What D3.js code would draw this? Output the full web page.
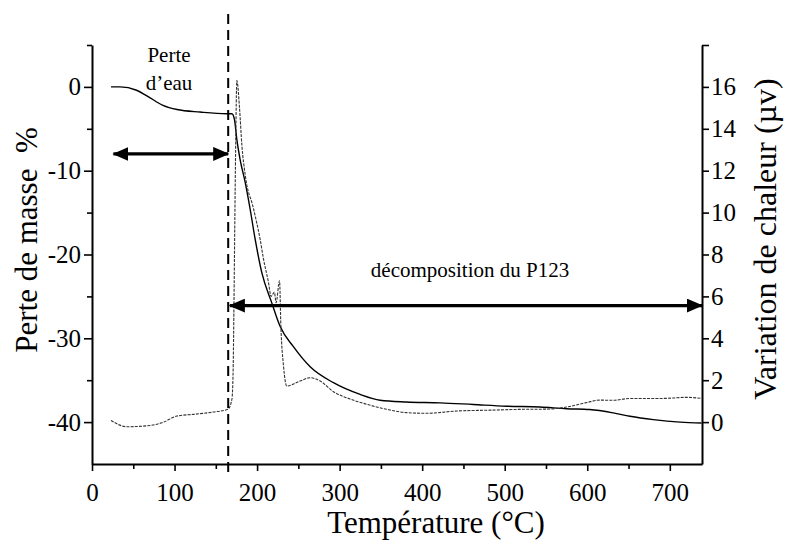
<!DOCTYPE html>
<html><head><meta charset="utf-8">
<script src="https://cdn.jsdelivr.net/npm/d3@7"></script>
<style>
html,body{margin:0;padding:0;background:#fff;}
svg text{font-family:"Liberation Serif","Times New Roman",serif !important;fill:#000;}
</style></head>
<body><svg id="chart" width="786" height="545"></svg>
<script>
// ---- data ----
const tgTemp = [23, 34, 54, 67, 86, 103, 131, 163, 169.5, 172.6, 175.5, 179.5, 185.6, 191.6, 197.7, 205.8, 217.9, 228, 244, 264.3, 292.5, 324.8, 349, 381, 421.7, 462, 502, 542.7, 575, 603, 631.5, 651.7, 680, 712.6, 738.5];
const tgMass = [0, 0, -0.4, -1.1, -2.2, -2.7, -3.0, -3.2, -3.2, -3.9, -6.3, -8.7, -11.4, -14.6, -18.2, -22.2, -25.8, -28.6, -31.0, -33.4, -35.3, -36.7, -37.4, -37.6, -37.7, -37.9, -38.1, -38.2, -38.4, -38.5, -38.9, -39.3, -39.7, -40.0, -40.1];
const dtaTemp = [23, 42.4, 70.6, 86.7, 103, 123, 147, 164.6, 169.5, 171, 172, 173, 174, 175.5, 178.7, 181.6, 185.6, 195.6, 203.8, 207.7, 213.8, 217, 221, 223, 227.2, 228.8, 232, 236, 252, 264.3, 276.4, 292.5, 312.7, 333, 357, 381, 405.6, 442, 482, 522.5, 551, 575, 599, 615, 631.5, 651.7, 692, 720, 738.5];
const dtaHeat = [0.08, -0.22, -0.16, 0.0, 0.29, 0.37, 0.48, 0.61, 1.09, 2.5, 5.7, 9.5, 13, 16.3, 15.0, 13.2, 11.8, 10.2, 8.7, 7.8, 6.67, 6.0, 6.2, 5.7, 6.75, 4.6, 2.68, 1.72, 1.96, 2.12, 1.96, 1.45, 1.1, 0.85, 0.61, 0.45, 0.42, 0.53, 0.57, 0.61, 0.62, 0.72, 0.93, 1.05, 1.04, 1.13, 1.13, 1.18, 1.13];
const xMajor = [0, 100, 200, 300, 400, 500, 600, 700];
const xMinor = [50, 150, 250, 350, 450, 550, 650];
const leftMajor = [0, -10, -20, -30, -40];
const leftMinor = [5, -5, -15, -25, -35];
const rightMajor = [0, 2, 4, 6, 8, 10, 12, 14, 16];
const rightMinor = [18];
const waterLoss = {from: 26, to: 165, mass: -8};
const decomposition = {from: 167, to: 739, mass: -26.1};
const boundaryTemp = 165;

const SERIF = '"Liberation Serif","Times New Roman",serif';

// ---- scales ----
const svg = d3.select("#chart");
const x = d3.scaleLinear().domain([0, 739]).range([92, 702]);
const yL = d3.scaleLinear().domain([-45, 5]).range([464, 45]);
const yR = d3.scaleLinear().domain([-2, 18]).range([464, 45]);
const fmt = d => String(d);

// ---- axes ----
function styleAxis(g, fs) {
  g.attr("font-family", SERIF).attr("font-size", fs);
  g.select(".domain").attr("stroke", "#000").attr("stroke-width", 2);
  g.selectAll(".tick line").attr("stroke", "#000").attr("stroke-width", 1.6);
  g.selectAll(".tick text").style("font-family", SERIF).style("font-size", fs + "px").attr("fill", "#000");
}
// x axis
const gx = svg.append("g").attr("transform", "translate(0,464)")
  .call(d3.axisBottom(x).tickValues(xMajor).tickFormat(fmt).tickSize(7).tickSizeOuter(0).tickPadding(12));
styleAxis(gx, 25);
gx.selectAll(".tick text").attr("dy", "0.71em");
svg.append("g").attr("transform", "translate(0,464)")
  .call(d3.axisBottom(x).tickValues(xMinor).tickSize(5).tickFormat(""))
  .call(g => { g.select(".domain").remove(); g.selectAll("line").attr("stroke", "#000").attr("stroke-width", 1.6); });

// left axis
const gl = svg.append("g").attr("transform", "translate(92,0)")
  .call(d3.axisLeft(yL).tickValues(leftMajor).tickFormat(fmt).tickSize(8).tickSizeOuter(0).tickPadding(3));
styleAxis(gl, 25);
svg.append("g").attr("transform", "translate(92,0)")
  .call(d3.axisLeft(yL).tickValues(leftMinor).tickSize(5).tickFormat(""))
  .call(g => { g.select(".domain").remove(); g.selectAll("line").attr("stroke", "#000").attr("stroke-width", 1.6); });

// right axis
const gr = svg.append("g").attr("transform", "translate(702,0)")
  .call(d3.axisRight(yR).tickValues(rightMajor).tickFormat(fmt).tickSize(7).tickSizeOuter(0).tickPadding(2));
styleAxis(gr, 25);
svg.append("g").attr("transform", "translate(702,0)")
  .call(d3.axisRight(yR).tickValues(rightMinor).tickSize(7).tickFormat(""))
  .call(g => { g.select(".domain").remove(); g.selectAll("line").attr("stroke", "#000").attr("stroke-width", 1.6); });

// ---- curves ----
const tgLine = d3.line().x((d, i) => x(tgTemp[i])).y(d => yL(d)).curve(d3.curveMonotoneX);
svg.append("path").datum(tgMass).attr("d", tgLine)
  .attr("fill", "none").attr("stroke", "#000").attr("stroke-width", 1.4);
const dtaLine = d3.line().x((d, i) => x(dtaTemp[i])).y(d => yR(d)).curve(d3.curveMonotoneX);
svg.append("path").datum(dtaHeat).attr("d", dtaLine)
  .attr("fill", "none").attr("stroke", "#333").attr("stroke-width", 1.1)
  .attr("stroke-dasharray", "3,1.2");

// ---- dashed boundary ----
svg.append("line")
  .attr("x1", x(boundaryTemp)).attr("x2", x(boundaryTemp))
  .attr("y1", 14).attr("y2", 472)
  .attr("stroke", "#000").attr("stroke-width", 2).attr("stroke-dasharray", "10,6");

// ---- arrows ----
const defs = svg.append("defs");
["start", "end"].forEach(k => {
  defs.append("marker").attr("id", "arr-" + k)
    .attr("markerUnits", "userSpaceOnUse")
    .attr("markerWidth", 16).attr("markerHeight", 14)
    .attr("viewBox", "0 0 16 14").attr("refX", 15).attr("refY", 7)
    .attr("orient", k === "start" ? "auto-start-reverse" : "auto")
    .append("path").attr("d", "M0,0 L16,7 L0,14 Z").attr("fill", "#000");
});
[waterLoss, decomposition].forEach(a => {
  svg.append("line")
    .attr("x1", x(a.from)).attr("x2", x(a.to))
    .attr("y1", yL(a.mass)).attr("y2", yL(a.mass))
    .attr("stroke", "#000").attr("stroke-width", 3.2)
    .attr("marker-start", "url(#arr-start)").attr("marker-end", "url(#arr-end)");
});

// ---- annotations ----
svg.append("text").attr("x", 169).attr("y", 62).attr("text-anchor", "middle")
  .style("font-size", "21px").text("Perte");
svg.append("text").attr("x", 169).attr("y", 90).attr("text-anchor", "middle")
  .style("font-size", "21px").text("d\u2019eau");
svg.append("text").attr("x", 470).attr("y", 277).attr("text-anchor", "middle")
  .style("font-size", "21px").text("décomposition du P123");

// ---- axis titles ----
svg.append("text").attr("x", 436).attr("y", 533).attr("text-anchor", "middle")
  .style("font-size", "31px").text("Température (°C)");
svg.append("text").attr("transform", "translate(37,240) rotate(-90)").attr("text-anchor", "middle")
  .style("font-size", "31px").attr("xml:space", "preserve").text("Perte de masse  %");
svg.append("text").attr("transform", "translate(776,239) rotate(-90)").attr("text-anchor", "middle")
  .style("font-size", "32px").text("Variation de chaleur (µv)");
</script>
</body></html>
